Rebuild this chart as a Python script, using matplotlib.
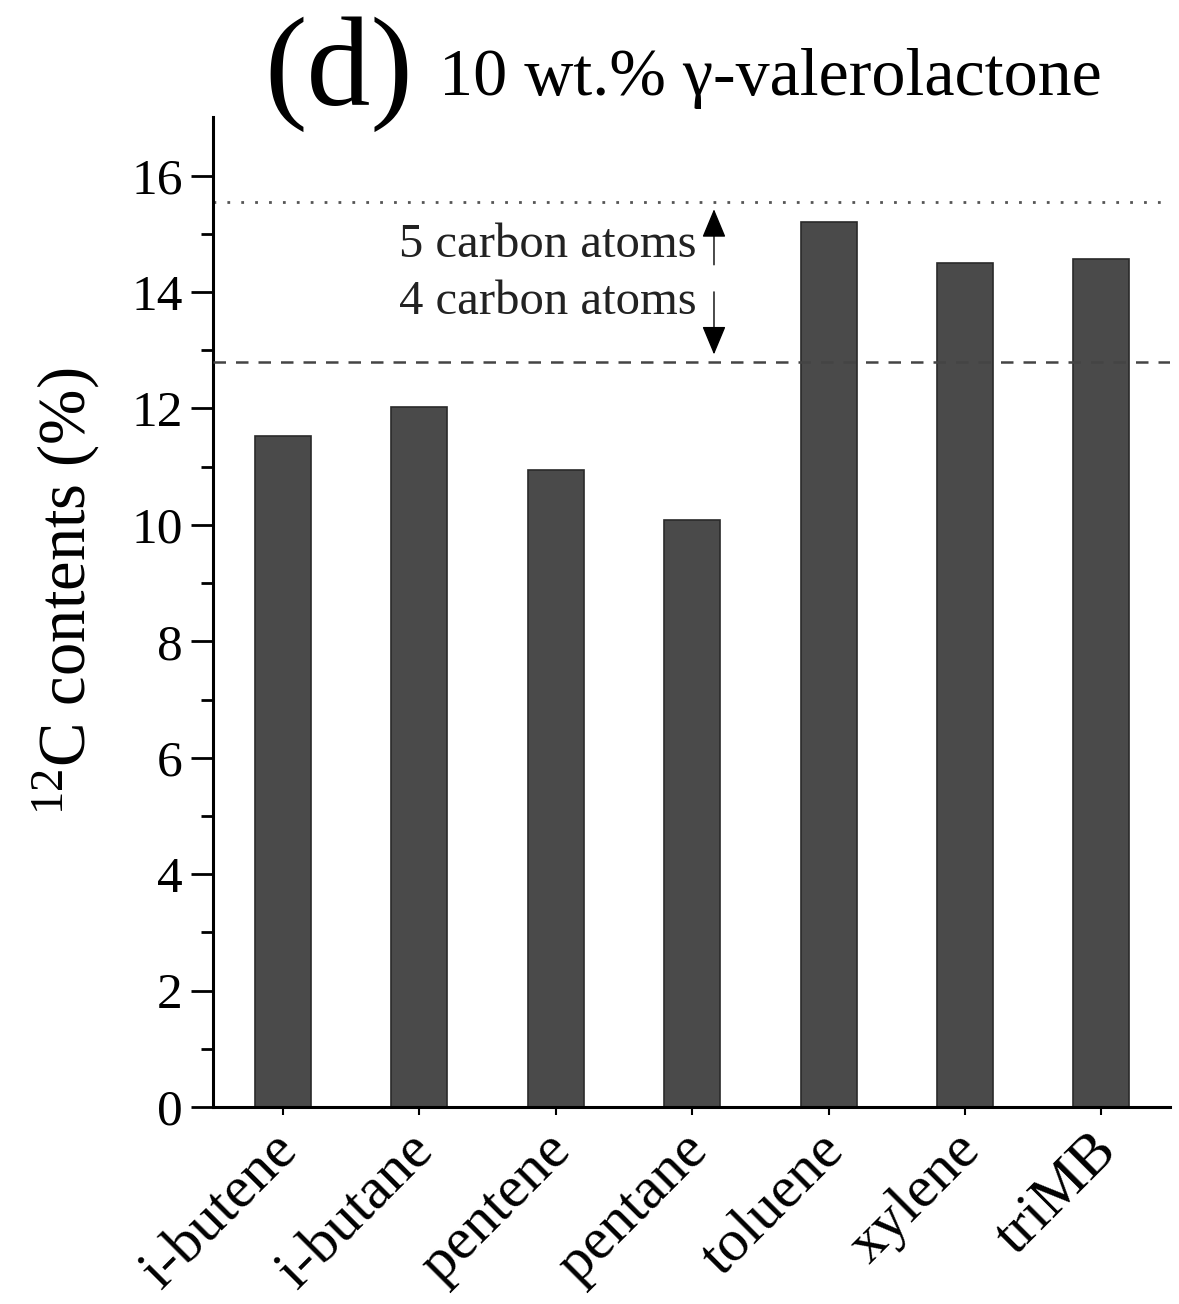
import matplotlib
matplotlib.use("Agg")
import matplotlib.pyplot as plt
import matplotlib.transforms as mtransforms
import numpy as np

# Contenido de 12C por producto
productos = ["i-butene", "i-butane", "pentene", "pentane", "toluene", "xylene", "triMB"]
contenido_12c = [11.52, 12.02, 10.95, 10.09, 15.20, 14.49, 14.57]

# Niveles de referencia (5 y 4 atomos de carbono)
nivel_5c = 15.55
nivel_4c = 12.80

plt.rcParams["font.family"] = ["Liberation Serif", "DejaVu Serif"]
plt.rcParams["mathtext.default"] = "regular"

fig = plt.figure(figsize=(11.79, 13.04), dpi=100)
ax = fig.add_axes([0.181, 0.151, 0.811, 0.759])

x = np.arange(len(productos))
ax.bar(x, contenido_12c, width=0.41, color="#4a4a4a", edgecolor="#2a2a2a", linewidth=1.2, zorder=2)

ax.axhline(nivel_5c, color="#555555", linestyle=(0, (1, 4)), linewidth=2, zorder=1)
ax.axhline(nivel_4c, color="#444444", linestyle=(0, (5, 4)), linewidth=1.8, zorder=3)

# Flechas y etiquetas entre los dos niveles
xa = 3.16
ax.annotate("", xy=(xa, nivel_5c - 0.08), xytext=(xa, 14.42),
            arrowprops=dict(arrowstyle="-|>,head_length=0.6,head_width=0.25", color="black", lw=1.0, mutation_scale=30))
ax.annotate("", xy=(xa, nivel_4c + 0.08), xytext=(xa, 14.05),
            arrowprops=dict(arrowstyle="-|>,head_length=0.6,head_width=0.25", color="black", lw=1.0, mutation_scale=30))
ax.text(3.03, 14.81, "5 carbon atoms", ha="right", va="center", fontsize=35, color="#222222")
ax.text(3.03, 13.83, "4 carbon atoms", ha="right", va="center", fontsize=35, color="#222222")

ax.set_xlim(-0.51, 6.5)
ax.set_ylim(0, 17)
ax.set_yticks(np.arange(0, 17, 2))
ax.set_yticks(np.arange(1, 17, 2), minor=True)
ax.set_xticks(x)
ax.set_xticklabels(productos, rotation=45, ha="right", rotation_mode="anchor", fontsize=43)
ax.tick_params(axis="y", which="major", direction="out", length=16, width=2, labelsize=37, pad=6)
ax.tick_params(axis="y", which="minor", direction="out", length=9, width=2)
ax.tick_params(axis="x", which="major", direction="out", length=6, width=1.5, pad=10)

# desplazar un poco las etiquetas del eje x
desplazamiento = mtransforms.ScaledTranslation(-12 / 100, 6 / 100, fig.dpi_scale_trans)
for etiqueta in ax.get_xticklabels():
    etiqueta.set_transform(etiqueta.get_transform() + desplazamiento)

for lado in ["top", "right"]:
    ax.spines[lado].set_visible(False)
ax.spines["left"].set_linewidth(2.2)
ax.spines["bottom"].set_linewidth(2.2)

ax.set_ylabel("$^{12}$C contents (%)", fontsize=48)
ax.yaxis.set_label_coords(-0.117, 0.521)

fig.text(0.287, 0.943, "(d)", fontsize=92, ha="center", va="center")
fig.text(0.372, 0.940, "10 wt.% γ-valerolactone", fontsize=49, ha="left", va="center")

fig.savefig("out.png", dpi=100)
